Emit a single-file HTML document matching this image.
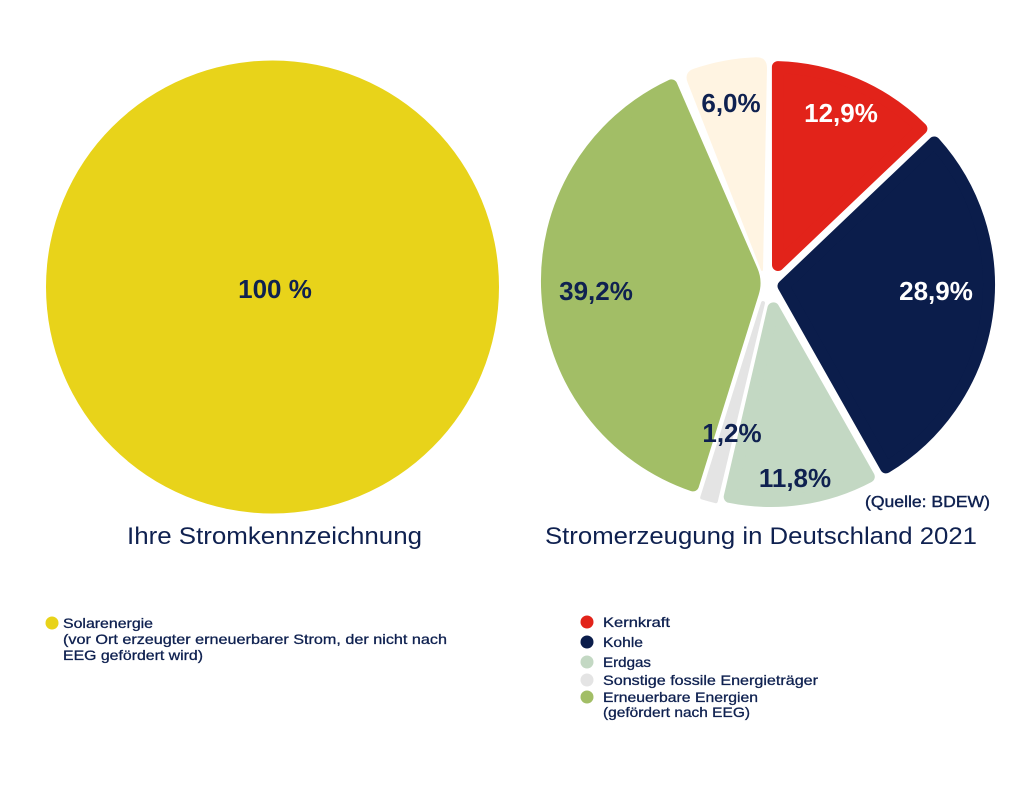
<!DOCTYPE html>
<html>
<head>
<meta charset="utf-8">
<style>
html,body{margin:0;padding:0;background:#ffffff;}
svg{display:block;}
text{font-family:"Liberation Sans",sans-serif;}
</style>
</head>
<body>
<svg width="1024" height="790" viewBox="0 0 1024 790" xmlns="http://www.w3.org/2000/svg">
<rect width="1024" height="790" fill="#ffffff"/>

<!-- Left pie -->
<circle cx="272.5" cy="287" r="226.5" fill="#E8D31A"/>
<text x="275" y="298" font-size="26" font-weight="bold" fill="#0f2150" text-anchor="middle">100 %</text>

<!-- Right exploded pie -->
<!-- Kernkraft -->
<path d="M778.0,265.0 L777.9,67.1 A212,212 0 0 1 921.4,128.6 Z" fill="#E2231A" stroke="#E2231A" stroke-width="12" stroke-linejoin="round"/>
<!-- Kohle -->
<path d="M783.5,286.1 L934.3,142.5 A213,213 0 0 1 886.0,467.4 Z" fill="#0B1D4B" stroke="#0B1D4B" stroke-width="12" stroke-linejoin="round"/>
<!-- Erdgas -->
<path d="M773.4,308.4 L868.8,476.7 A209,209 0 0 1 729.7,496.9 Z" fill="#C3D8C3" stroke="#C3D8C3" stroke-width="12" stroke-linejoin="round"/>
<!-- Sonstige fossile -->
<path d="M763,303 L715.8,501.2 A211,211 0 0 1 702.2,497.5 Z" fill="#E4E4E4" stroke="#E4E4E4" stroke-width="4" stroke-linejoin="round"/>
<!-- Erneuerbare -->
<path d="M753.0,292.8 L693.0,485.4 A216,216 0 0 1 671.4,85.4 L751.8,270.3 Q756.6,281.3 753.0,292.8 Z" fill="#A2BE66" stroke="#A2BE66" stroke-width="12" stroke-linejoin="round"/>
<!-- Sonstige 6,0% -->
<path d="M762,270 L688.6,82.3 Q684.9,73 694.1,69.7 A215,215 0 0 1 756,58.2 Q766,58 766,68 Z" fill="#FFF4E2" stroke="#FFF4E2" stroke-width="2" stroke-linejoin="round"/>

<!-- slice labels -->
<text x="841" y="122" font-size="26" font-weight="bold" fill="#ffffff" text-anchor="middle">12,9%</text>
<text x="731" y="112" font-size="26" font-weight="bold" fill="#0f2150" text-anchor="middle">6,0%</text>
<text x="596" y="300" font-size="26" font-weight="bold" fill="#0f2150" text-anchor="middle">39,2%</text>
<text x="936" y="300" font-size="26" font-weight="bold" fill="#ffffff" text-anchor="middle">28,9%</text>
<text x="732" y="442" font-size="26" font-weight="bold" fill="#0f2150" text-anchor="middle">1,2%</text>
<text x="795" y="487" font-size="26" font-weight="bold" fill="#0f2150" text-anchor="middle">11,8%</text>

<text x="865" y="507" font-size="16" fill="#0f2150" stroke="#0f2150" stroke-width="0.4" textLength="125" lengthAdjust="spacingAndGlyphs">(Quelle: BDEW)</text>

<!-- titles -->
<text x="127" y="544" font-size="24" fill="#0f2150" textLength="295" lengthAdjust="spacingAndGlyphs">Ihre Stromkennzeichnung</text>
<text x="545" y="544" font-size="24" fill="#0f2150" textLength="432" lengthAdjust="spacingAndGlyphs">Stromerzeugung in Deutschland 2021</text>

<!-- left legend -->
<g stroke="#0f2150" stroke-width="0.3">
<text x="63" y="628" font-size="14" fill="#0f2150" textLength="90" lengthAdjust="spacingAndGlyphs">Solarenergie</text>
<text x="63" y="644" font-size="14" fill="#0f2150" textLength="384" lengthAdjust="spacingAndGlyphs">(vor Ort erzeugter erneuerbarer Strom, der nicht nach</text>
<text x="63" y="660" font-size="14" fill="#0f2150" textLength="140" lengthAdjust="spacingAndGlyphs">EEG gefördert wird)</text>
</g>
<circle cx="52" cy="623" r="6.5" fill="#E8D31A"/>

<!-- right legend -->
<circle cx="587" cy="622" r="6.5" fill="#E2231A"/>
<circle cx="587" cy="642" r="6.5" fill="#0B1D4B"/>
<circle cx="587" cy="662" r="6.5" fill="#C3D8C3"/>
<circle cx="587" cy="680" r="6.5" fill="#E4E4E4"/>
<circle cx="587" cy="697" r="6.5" fill="#A2BE66"/>
<g stroke="#0f2150" stroke-width="0.3">
<text x="603" y="627" font-size="14" fill="#0f2150" textLength="67" lengthAdjust="spacingAndGlyphs">Kernkraft</text>
<text x="603" y="647" font-size="14" fill="#0f2150" textLength="40" lengthAdjust="spacingAndGlyphs">Kohle</text>
<text x="603" y="667" font-size="14" fill="#0f2150" textLength="48" lengthAdjust="spacingAndGlyphs">Erdgas</text>
<text x="603" y="685" font-size="14" fill="#0f2150" textLength="215" lengthAdjust="spacingAndGlyphs">Sonstige fossile Energieträger</text>
<text x="603" y="702" font-size="14" fill="#0f2150" textLength="155" lengthAdjust="spacingAndGlyphs">Erneuerbare Energien</text>
<text x="603" y="717" font-size="14" fill="#0f2150" textLength="147" lengthAdjust="spacingAndGlyphs">(gefördert nach EEG)</text>
</g>
</svg>
</body>
</html>
